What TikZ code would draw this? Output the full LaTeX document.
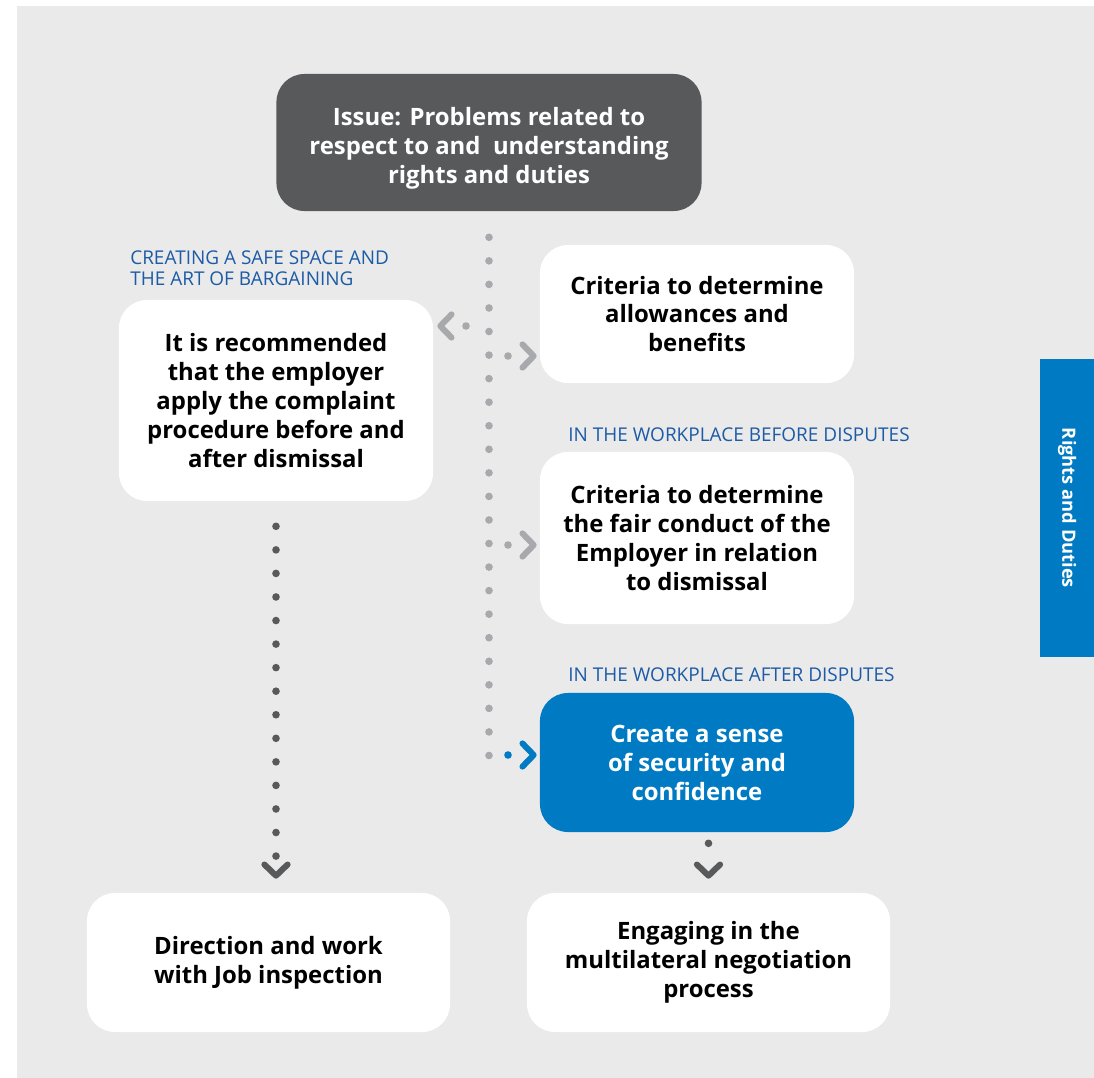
\documentclass[tikz,border=0pt]{standalone}
\usepackage{fontspec}
\setmainfont{Open Sans}
\usetikzlibrary{arrows.meta}

\definecolor{bggray}{HTML}{EAEAEA}
\definecolor{darkbox}{HTML}{58595B}
\definecolor{bluebox}{HTML}{007BC3}
\definecolor{labelblue}{HTML}{1D5BA6}
\definecolor{lightdot}{HTML}{A7A9AC}

\begin{document}
\begin{tikzpicture}[x=0.025cm, y=-0.025cm,
    box/.style={rounded corners=0.7cm, fill=white, align=center, inner sep=0pt,
      font=\fontsize{17}{20.6}\selectfont\bfseries},
    tag/.style={anchor=north west, align=left, inner sep=0pt, text=labelblue,
      font=\fontsize{13.5}{15}\selectfont},
    dots/.style={line width=0.19cm, line cap=round, dash pattern=on 0pt off 0.5887cm},
    chev/.style={-{Straight Barb[length=0.28cm, width=0.58cm, line width=0.15cm, round]}}]

    % page and background
    \useasboundingbox (0,0) rectangle (1094,1078);
    \fill[bggray] (17,6) rectangle (1094,1078);

    % issue at the top
    \node[box, fill=darkbox, text=white, minimum width=10.625cm, minimum height=3.425cm] (issue) at (489,142.5)
        {\rule{0pt}{0.75cm}Issue: Problems related to\\ respect to and\ \ understanding\\ rights and duties};

    % boxes
    \node[box, minimum width=7.85cm, minimum height=5.025cm] (rec) at (276,400.5)
        {It is recommended\\ that the employer\\ apply the complaint\\ procedure before and\\ after dismissal};
    \node[box, minimum width=7.85cm, minimum height=3.45cm] (allow) at (697,314)
        {Criteria to determine\\ allowances and\\ benefits};
    \node[box, minimum width=7.85cm, minimum height=4.3cm] (fair) at (697,538)
        {Criteria to determine\\ the fair conduct of the\\ Employer in relation\\ to dismissal};
    \node[box, fill=bluebox, text=white, minimum width=7.85cm, minimum height=3.475cm] (secure) at (697,762.5)
        {Create a sense\\ of security and\\ confidence};
    \node[box, minimum width=9.075cm, minimum height=3.475cm] (direct) at (268.5,962.5)
        {Direction and work\\ with Job inspection};
    \node[box, minimum width=9.075cm, minimum height=3.475cm] (engage) at (708.5,962.5)
        {Engaging in the\\ multilateral negotiation\\ process};

    % blue headings
    \node[tag] (safe) at (130,250) {CREATING A SAFE SPACE AND\\ THE ART OF BARGAINING};
    \node[tag] (before) at (568,427) {IN THE WORKPLACE BEFORE DISPUTES};
    \node[tag] (after) at (568,667) {IN THE WORKPLACE AFTER DISPUTES};

    % side tab
    \node[fill=bluebox, rotate=-90, minimum width=7.45cm, minimum height=1.35cm, inner sep=0pt,
        text=white, font=\fontsize{13}{15}\selectfont\bfseries] (tab) at (1067,508) {Rights and Duties};

    % dotted trunk and branches
    \coordinate (tL) at (489,326);
    \coordinate (t1) at (489,356);
    \coordinate (t2) at (489,545);
    \coordinate (t3) at (489,755);
    \coordinate (tEnd) at (489,757);
    \draw[dots, lightdot, shorten <=0.65cm] (issue.south) -- (tEnd);

    \draw[dots, lightdot, chev, shorten <=0.575cm, shorten >=0.1cm] (tL) -- (tL -| rec.east);
    \draw[dots, lightdot, chev, shorten <=0.475cm, shorten >=0.075cm] (t1) -- (t1 -| allow.west);
    \draw[dots, lightdot, chev, shorten <=0.475cm, shorten >=0.075cm] (t2) -- (t2 -| fair.west);
    \draw[dots, bluebox, chev, shorten <=0.475cm, shorten >=0.075cm] (t3) -- (t3 -| secure.west);

    % down to the bottom boxes
    \draw[dots, darkbox, chev, shorten <=0.625cm, shorten >=0.35cm] (rec.south) -- (rec.south |- direct.north);
    \draw[dots, darkbox, chev, dash pattern=on 0pt off 1cm, shorten <=0.275cm, shorten >=0.35cm]
        (secure.south -| engage.north) -- (engage.north);
\end{tikzpicture}
\end{document}
